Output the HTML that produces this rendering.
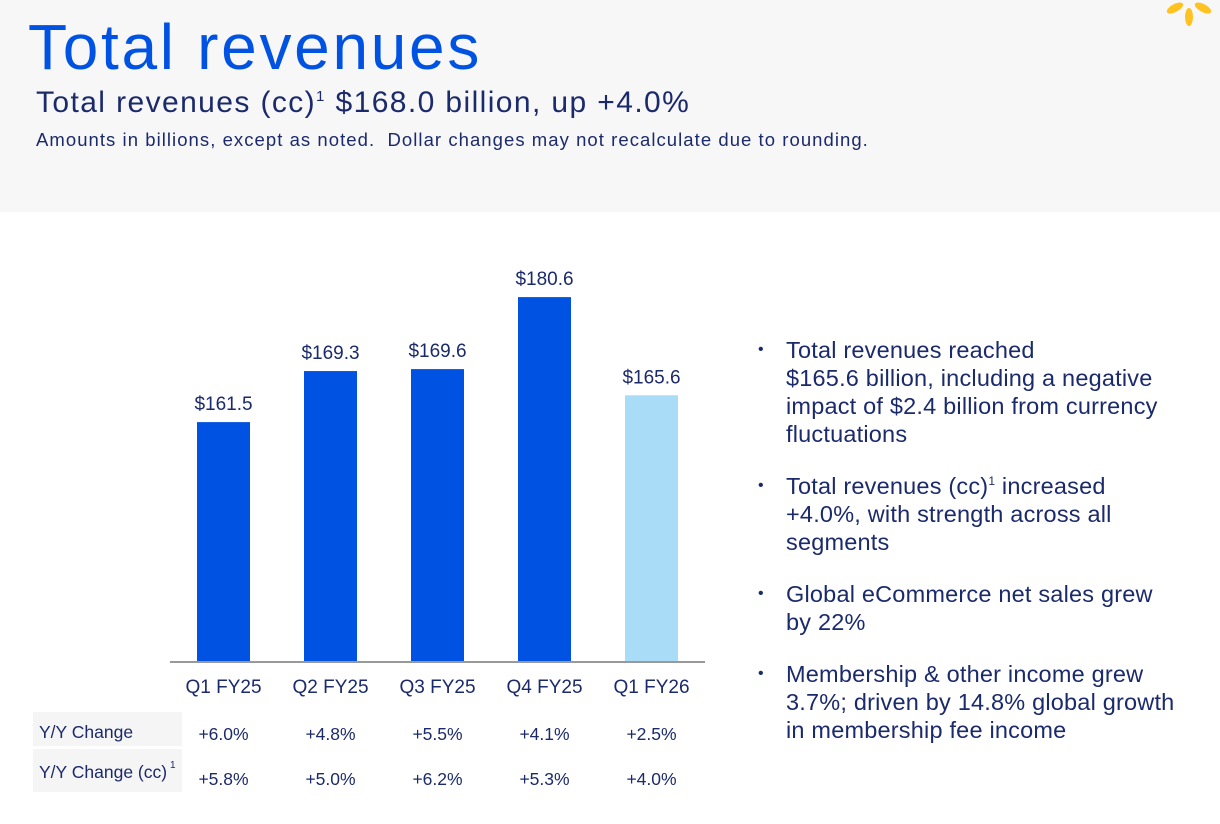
<!DOCTYPE html>
<html><head><meta charset="utf-8"><style>
body{margin:0;width:1220px;height:824px;background:#fff;font-family:"Liberation Sans",sans-serif;position:relative;overflow:hidden;color:#1b2a6b}
#hdr{position:absolute;left:0;top:0;width:1220px;height:212px;background:#f7f7f7}
h1{position:absolute;left:28px;top:10px;margin:0;font-weight:normal;font-size:64px;color:#0053e2;letter-spacing:2.7px}
#sub{position:absolute;left:36px;top:86px;font-size:30px;color:#1b2a6b;letter-spacing:1.4px;white-space:nowrap}
#sub sup{font-size:15px}
#note{position:absolute;left:36px;top:129px;font-size:18.5px;letter-spacing:1.05px;white-space:nowrap}
ul{position:absolute;left:786px;top:336px;margin:0;padding:0;list-style:none;width:440px}
li{font-size:23.5px;line-height:28px;margin-bottom:24px;position:relative;white-space:nowrap;letter-spacing:0.2px}
li:before{content:"•";position:absolute;left:-28px;top:0;font-size:16px}
li sup{font-size:12px;line-height:0}
svg{position:absolute;left:0;top:0}
</style></head><body>
<div id="hdr"></div>
<svg width="1220" height="824">
<g fill="#ffc220">
<ellipse cx="1175" cy="8" rx="9" ry="4" transform="rotate(-28 1175 8)"/>
<ellipse cx="1203" cy="8" rx="9" ry="4" transform="rotate(28 1203 8)"/>
<ellipse cx="1189" cy="17" rx="4" ry="9"/>
</g></svg>
<h1>Total revenues</h1>
<div id="sub">Total revenues (cc)<sup>1</sup> $168.0 billion, up +4.0%</div>
<div id="note">Amounts in billions, except as noted.&nbsp; Dollar changes may not recalculate due to rounding.</div>
<svg id="chart" width="1220" height="824"></svg>
<ul>
<li>Total revenues reached<br>$165.6 billion, including a negative<br>impact of $2.4 billion from currency<br>fluctuations</li>
<li>Total revenues (cc)<sup>1</sup> increased<br>+4.0%, with strength across all<br>segments</li>
<li>Global eCommerce net sales grew<br>by 22%</li>
<li>Membership &amp; other income grew<br>3.7%; driven by 14.8% global growth<br>in membership fee income</li>
</ul>
<script>
const categories=["Q1 FY25","Q2 FY25","Q3 FY25","Q4 FY25","Q1 FY26"];
const revenues=[161.5,169.3,169.6,180.6,165.6];
const yoy=["+6.0%","+4.8%","+5.5%","+4.1%","+2.5%"];
const yoyCC=["+5.8%","+5.0%","+6.2%","+5.3%","+4.0%"];
const NS="http://www.w3.org/2000/svg";
const svg=document.getElementById('chart');
const base=661,yMin=125,pxPer=6.545;
const y=v=>base-(v-yMin)*pxPer;
const x=i=>223.5+i*107;
const bw=53;
function mk(t,a,txt){const e=document.createElementNS(NS,t);for(const k in a)e.setAttribute(k,a[k]);if(txt!=null)e.textContent=txt;svg.appendChild(e);return e;}
const navy="#1b2a6b";
categories.forEach((c,i)=>{
 const b=mk('rect',{x:x(i)-bw/2,y:y(revenues[i]),width:bw,height:base-y(revenues[i]),fill:i===4?'#a9ddf7':'#0053e2'});
 
 
 const l=mk('text',{x:x(i),y:y(revenues[i])-12,'text-anchor':'middle','font-size':19,fill:navy},'$'+revenues[i].toFixed(1));
 
 
 const t=mk('text',{x:x(i),y:693,'text-anchor':'middle','font-size':19,fill:navy},c);
 
 
 const a=mk('text',{x:x(i),y:740,'text-anchor':'middle','font-size':17.5,fill:navy},yoy[i]);
 
 
 const d=mk('text',{x:x(i),y:785,'text-anchor':'middle','font-size':17.5,fill:navy},yoyCC[i]);
 
 
});
const ax=mk('line',{x1:170,x2:705,y1:base+1,y2:base+1,stroke:'#999',"stroke-width":2});


const r1=mk('rect',{x:33,y:712,width:149,height:34,fill:'#f5f5f5'});


const r2=mk('rect',{x:33,y:749,width:149,height:43,fill:'#f5f5f5'});


const h1=mk('text',{x:39,y:738,'font-size':17.5,fill:navy},'Y/Y Change');


const h2=mk('text',{x:39,y:778,'font-size':17.5,fill:navy},'Y/Y Change (cc)');


const s=mk('text',{x:170,y:768,'font-size':10,fill:navy},'1');


</script>
</body></html>
